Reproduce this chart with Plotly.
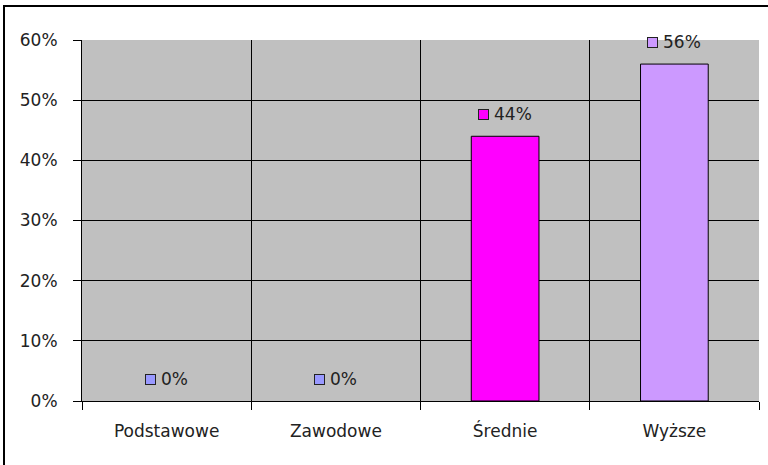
import plotly.graph_objects as go

categories = ["Podstawowe", "Zawodowe", "Średnie", "Wyższe"]
values = [0, 0, 44, 56]
bar_colors = ["#9999FF", "#9999FF", "#FF00FF", "#CC99FF"]
y_ticks = [0, 10, 20, 30, 40, 50, 60]
y_tick_labels = [f"{v}%" for v in y_ticks]

FONT = "DejaVu Sans"
FS = 17

fig = go.Figure()
fig.add_trace(go.Bar(
    x=categories, y=values, width=0.4,
    marker=dict(color=bar_colors,
                line=dict(color="black", width=[1 if v > 0 else 0 for v in values])),
    showlegend=False, hoverinfo="skip",
))

# data labels with legend keys
for cat, v, col in zip(categories, values, bar_colors):
    label = f"{v}%"
    ndig = len(str(v))
    tw = FS * (0.636 * ndig + 0.95)
    sq = 11
    gap = 5
    group = sq + gap + tw
    fig.add_annotation(x=cat, y=v, xref="x", yref="y", text=" ", showarrow=False,
                       width=9, height=9, borderpad=0, borderwidth=1,
                       bordercolor="#222", bgcolor=col,
                       xshift=-group / 2 + sq / 2, yshift=22,
                       xanchor="center", yanchor="middle", font=dict(size=4))
    fig.add_annotation(x=cat, y=v, xref="x", yref="y", text=label, showarrow=False,
                       xshift=-group / 2 + sq + gap + tw / 2, yshift=22,
                       xanchor="center", yanchor="middle",
                       font=dict(family=FONT, size=FS, color="#222"))

# outer chart border (partly cropped at right/bottom)
L, R, T, B = 82, 759, 40, 401
W, H = R - L, B - T
def px(x):
    return (x - L) / W
def py(y):
    return (B - y) / H
fig.add_shape(type="rect", xref="paper", yref="paper",
              x0=px(4), x1=px(800), y0=py(490), y1=py(6),
              line=dict(color="black", width=2), layer="above")

fig.update_layout(
    width=768, height=465,
    margin=dict(l=L, r=768 - R, t=T, b=465 - B, autoexpand=False),
    paper_bgcolor="white", plot_bgcolor="#C0C0C0",
    font=dict(family=FONT, size=FS, color="#222"),
    bargap=0.6,
)
fig.update_xaxes(
    type="category", tickson="boundaries", showgrid=True, gridcolor="black", gridwidth=1,
    ticks="outside", ticklen=8, tickcolor="black", tickwidth=1,
    showline=True, linecolor="black", linewidth=1, automargin=False,
    ticklabelstandoff=15, tickfont=dict(family=FONT, size=FS, color="#222"),
)
fig.update_yaxes(
    range=[0, 60], tickvals=y_ticks, ticktext=y_tick_labels,
    showgrid=True, gridcolor="black", gridwidth=1, zeroline=False,
    ticks="outside", ticklen=8, tickcolor="black", tickwidth=1,
    showline=True, linecolor="black", linewidth=1, automargin=False,
    ticklabelstandoff=12, tickfont=dict(family=FONT, size=FS, color="#222"),
)

fig.write_html("out.html", config={"displayModeBar": False},
               post_script="document.body.style.margin='0';")
